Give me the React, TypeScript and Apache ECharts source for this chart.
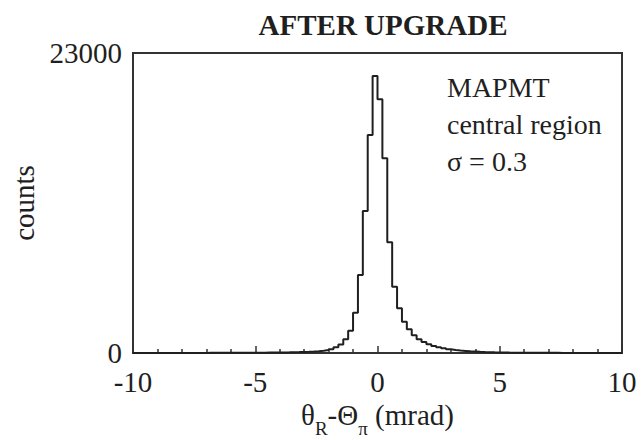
import React, { useEffect, useRef } from "react";
import * as echarts from "echarts";

const binStart = -10;
const binWidth = 0.2;
const counts = [
  4, 3, 5, 4, 5, 6, 5, 6, 7, 6,
  7, 8, 7, 9, 8, 10, 11, 10, 12, 13,
  14, 15, 16, 18, 20, 23, 26, 30, 34, 39,
  45, 52, 60, 70, 82, 95, 115, 140, 175, 225,
  290, 440, 660, 1050, 1710, 3090, 5980, 10890, 16710, 21240,
  19450, 14930, 8490, 5080, 3430, 2400, 1820, 1360, 1050, 840,
  670, 540, 440, 360, 280, 230, 190, 160, 130, 110,
  90, 75, 62, 52, 44, 37, 32, 28, 24, 21,
  19, 17, 15, 14, 12, 11, 10, 9, 9, 8,
  7, 7, 6, 6, 5, 5, 5, 4, 4, 3,
];
const xTicks = [-10, -5, 0, 5, 10];
const yTicks = [0, 23000];
const title = "AFTER UPGRADE";
const notes = ["MAPMT", "central region", "σ = 0.3"];

const FONT = "Liberation Serif";
const INK = "#1f1f1f";

export default function App() {
  const ref = useRef<HTMLDivElement>(null);
  useEffect(() => {
    if (!ref.current) return;
    const chart = echarts.init(ref.current, undefined, { renderer: "svg" });
    const pts: [number, number][] = counts.map((c, i) => [
      +(binStart + i * binWidth).toFixed(2),
      c,
    ]);
    pts.push([+(binStart + counts.length * binWidth).toFixed(2), counts[counts.length - 1]]);
    chart.setOption({
      animation: false,
      backgroundColor: "#ffffff",
      title: {
        text: title,
        left: 378,
        top: 5,
        textAlign: "center",
        textStyle: { fontFamily: FONT, fontWeight: "bold", fontSize: 29, color: INK },
      },
      grid: {
        left: 133,
        right: 20,
        top: 53,
        bottom: 87,
        show: true,
        borderColor: "#333",
        borderWidth: 2,
        backgroundColor: "transparent",
        containLabel: false,
        outerBoundsMode: "none",
      },
      xAxis: {
        type: "value",
        min: xTicks[0],
        max: xTicks[xTicks.length - 1],
        interval: 5,
        axisLine: { show: true, onZero: false, lineStyle: { color: "#333", width: 2 } },
        axisTick: { show: true, inside: true, length: 7, lineStyle: { color: "#333", width: 1.5 } },
        minorTick: { show: true, splitNumber: 5, length: 4, lineStyle: { color: "#333", width: 1.5 } },
        splitLine: { show: false },
        axisLabel: { fontFamily: FONT, fontSize: 29, color: INK, margin: 14, formatter: (v: number) => String(v) },
        name: "{m|θ}{s|R}{m|-Θ}{s|π}{m| (mrad)}",
        nameLocation: "middle",
        nameGap: 44,
        nameTextStyle: {
          rich: {
            m: { fontFamily: FONT, fontSize: 29, color: INK, lineHeight: 32, verticalAlign: "bottom" },
            s: { fontFamily: FONT, fontSize: 19, color: INK, lineHeight: 19, verticalAlign: "bottom", padding: [0, 0, -8, 0] },
          },
        },
      },
      yAxis: {
        type: "value",
        min: yTicks[0],
        max: yTicks[1],
        interval: 23000,
        axisLine: { show: true, onZero: false, lineStyle: { color: "#333", width: 2 } },
        axisTick: { show: false },
        splitLine: { show: false },
        axisLabel: { fontFamily: FONT, fontSize: 29, color: INK, margin: 11, formatter: (v: number) => String(v) },
        name: "counts",
        nameLocation: "middle",
        nameGap: 86,
        nameTextStyle: { fontFamily: FONT, fontSize: 29, color: INK },
      },
      graphic: notes.map((t, i) => ({
        type: "text",
        left: 447,
        top: 73 + i * 37,
        style: { text: t, fontFamily: FONT, fontSize: 28, fill: INK },
      })),
      series: [
        {
          type: "line",
          step: "end",
          data: pts,
          symbol: "none",
          lineStyle: { color: INK, width: 2 },
          clip: true,
        },
      ],
    });
    return () => chart.dispose();
  }, []);
  return (
    <div
      ref={ref}
      style={{ position: "fixed", left: 0, top: 0, width: 642, height: 440 }}
    />
  );
}
